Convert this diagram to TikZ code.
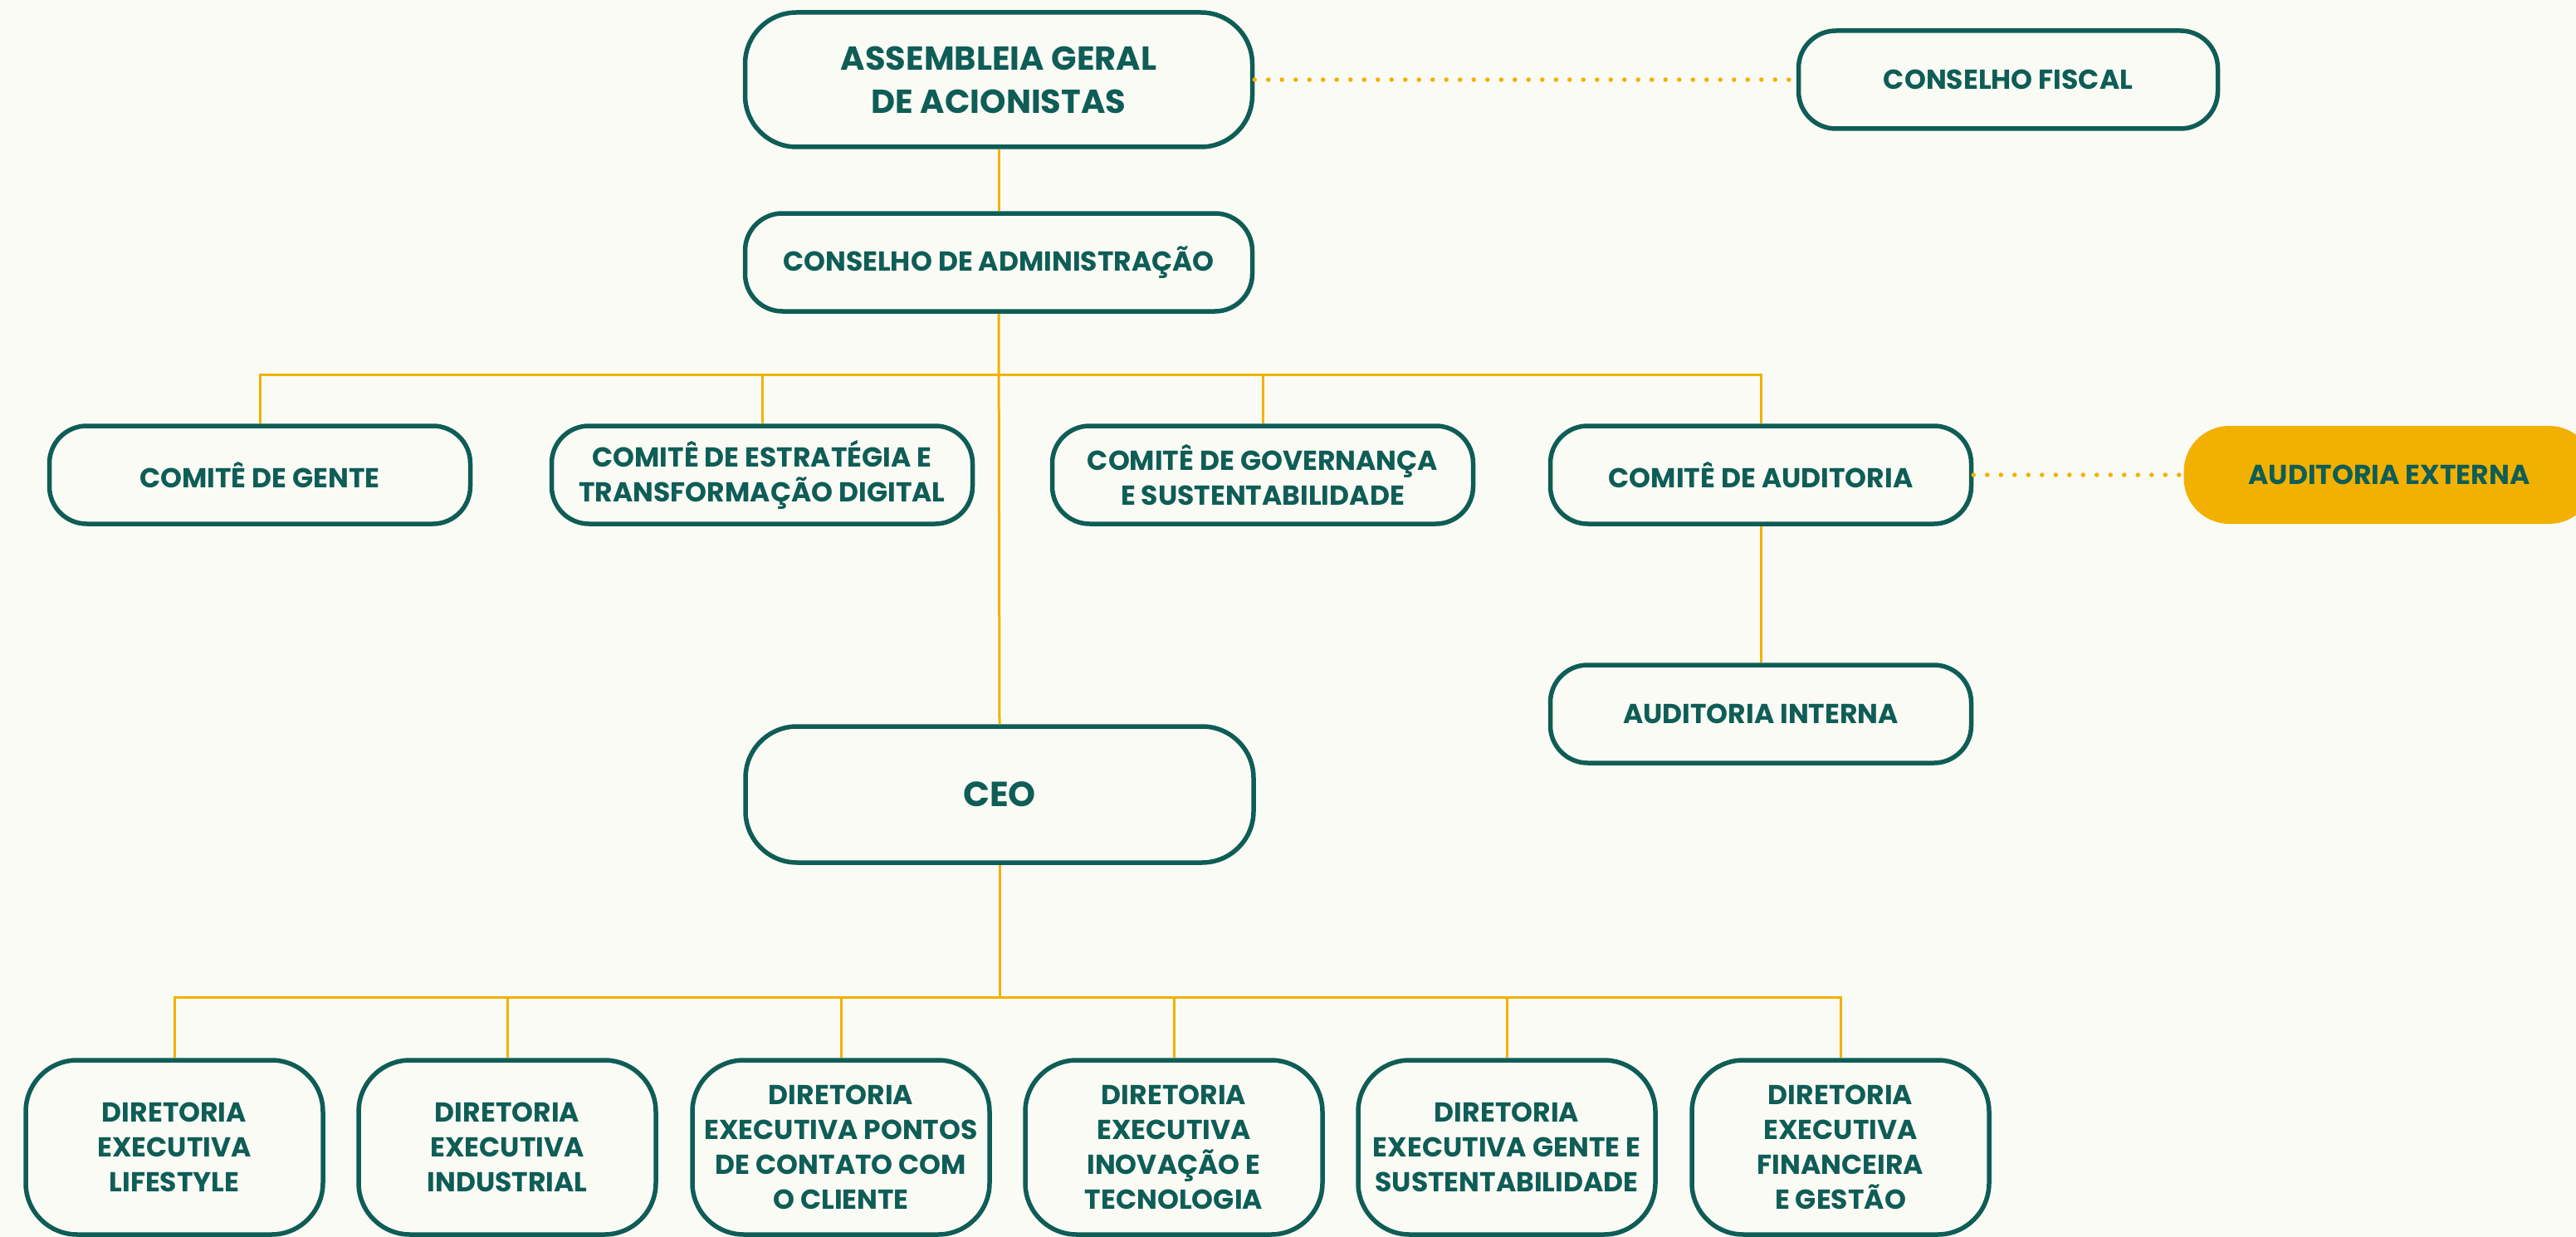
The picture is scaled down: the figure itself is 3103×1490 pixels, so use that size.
\documentclass[tikz,border=0pt]{standalone}
\usepackage{fontspec}
\setmainfont{Poppins}
\definecolor{grn}{HTML}{0E5D56}
\definecolor{yel}{HTML}{F2B100}
\definecolor{bgc}{HTML}{FBFBF5}
\tikzset{
  box/.style={draw=grn, line width=5.5pt, rounded corners=45pt, text=grn, align=center,
    inner sep=0pt, fill=bgc, minimum width=507pt, minimum height=118pt,
    font=\fontsize{33}{42}\selectfont\bfseries},
  bigbox/.style={box, rounded corners=62pt, minimum width=611pt, minimum height=162pt},
  dirbox/.style={box, rounded corners=62pt, minimum width=358pt, minimum height=210pt},
  extbox/.style={fill=yel, draw=none, rounded corners=55pt, text=grn, align=center,
    inner sep=0pt, minimum width=495pt, minimum height=118pt,
    font=\fontsize{33}{42}\selectfont\bfseries},
  conn/.style={draw=yel, line width=3pt},
  dotline/.style={draw=yel, line width=5.5pt, line cap=round, dash pattern=on 0pt off 16.5pt}
}
\begin{document}
\begin{tikzpicture}[x=1pt,y=-1pt]
\fill[bgc] (0,0) rectangle (3103,1490);
\useasboundingbox (0,0) rectangle (3103,1490);
\clip (0,0) rectangle (3103,1490);

% top level
\node[bigbox, font=\fontsize{40}{52}\selectfont\bfseries] (asm) at (1203,96) {ASSEMBLEIA GERAL\\DE ACIONISTAS};
\node[box, minimum width=505pt] (fis) at (2419,96) {CONSELHO FISCAL};
\node[box, minimum width=611pt] (cadm) at (1203,316) {CONSELHO DE ADMINISTRAÇÃO};

% committees
\node[box] (c1) at (313,572) {COMITÊ DE GENTE};
\node[box] (c2) at (918,572) {COMITÊ DE ESTRATÉGIA E\\TRANSFORMAÇÃO DIGITAL};
\node[box] (c3) at (1521,572) {COMITÊ DE GOVERNANÇA\\E SUSTENTABILIDADE};
\node[box] (c4) at (2121,572) {COMITÊ DE AUDITORIA};
\node[extbox] (ext) at (2878,572) {AUDITORIA EXTERNA};
\node[box] (aint) at (2121,860) {AUDITORIA INTERNA};

% CEO
\node[bigbox, minimum width=612pt, minimum height=164pt, font=\fontsize{42}{52}\selectfont\bfseries] (ceo) at (1204,957) {CEO};

% directorates
\node[dirbox] (d1) at (210,1382) {DIRETORIA\\EXECUTIVA\\LIFESTYLE};
\node[dirbox] (d2) at (611,1382) {DIRETORIA\\EXECUTIVA\\INDUSTRIAL};
\node[dirbox] (d3) at (1013,1382) {DIRETORIA\\EXECUTIVA PONTOS\\DE CONTATO COM\\O CLIENTE};
\node[dirbox] (d4) at (1414,1382) {DIRETORIA\\EXECUTIVA\\INOVAÇÃO E\\TECNOLOGIA};
\node[dirbox] (d5) at (1815,1382) {DIRETORIA\\EXECUTIVA GENTE E\\SUSTENTABILIDADE};
\node[dirbox] (d6) at (2217,1382) {DIRETORIA\\EXECUTIVA\\FINANCEIRA\\E GESTÃO};

% bus coordinates
\coordinate (bus1) at (1203,451);
\coordinate (bus2) at (1204,1201);

% connectors
\draw[conn] (asm.south) -- (cadm.north);
\draw[dotline] (asm.east) -- (fis.west);
\draw[conn] (cadm.south) -- (ceo.north);
\draw[conn] (c1.north) |- (bus1) -| (c4.north);
\draw[conn] (c2.north) -- (c2.north |- bus1);
\draw[conn] (c3.north) -- (c3.north |- bus1);
\draw[conn] (c4.south) -- (aint.north);
\draw[dotline] (c4.east) -- (ext.west);
\draw[conn] (ceo.south) -- (bus2);
\draw[conn] (d1.north) |- (bus2) -| (d6.north);
\draw[conn] (d2.north) -- (d2.north |- bus2);
\draw[conn] (d3.north) -- (d3.north |- bus2);
\draw[conn] (d4.north) -- (d4.north |- bus2);
\draw[conn] (d5.north) -- (d5.north |- bus2);
\end{tikzpicture}
\end{document}
